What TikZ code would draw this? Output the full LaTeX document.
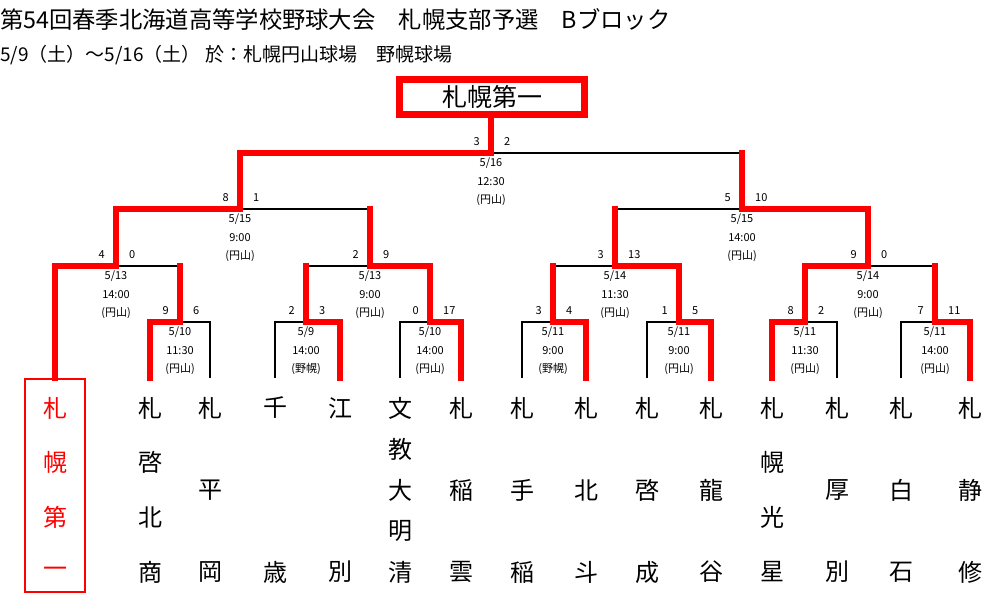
\documentclass[tikz,border=0pt]{standalone}
\usepackage{fontspec}
\setmainfont{Noto Sans CJK JP}
\definecolor{bred}{RGB}{255,0,0}
\tikzset{
  blk/.style={draw=black, line width=1.8pt},
  redl/.style={draw=bred, line width=5.5pt, line cap=rect},
  small/.style={font=\fontsize{11}{11}\selectfont, inner sep=0pt},
  teamtxt/.style={font=\fontsize{24}{24}\selectfont, inner sep=0pt},
}
\newcommand\gameinfo[6]{%
  \node[small, anchor=east] (#1-sl) at ([xshift=-11pt,yshift=11pt]#1) {#2};
  \node[small, anchor=west] (#1-sr) at ([xshift=13pt,yshift=11pt]#1) {#3};
  \node[small] (#1-d) at ([yshift=-10pt]#1) {#4};
  \node[small] (#1-t) at ([yshift=-29pt]#1) {#5};
  \node[small] (#1-v) at ([yshift=-47pt]#1) {#6};
}
\newcommand\teamcol[5]{%
  \foreach \c [count=\i] in {#4} {
    \node[teamtxt, text=#5] (#1-\i) at ({#2},{408+(\i-1)*164/(#3-1)}) {\c};
  }
}
\begin{document}
\begin{tikzpicture}[x=1pt,y=-1pt]
\useasboundingbox (0,0) rectangle (1001,596);

% titles
\node[anchor=west, inner sep=0pt, font=\fontsize{23.3}{23.3}\selectfont] (title) at (0,19) {第54回春季北海道高等学校野球大会　札幌支部予選　Bブロック};
\node[anchor=west, inner sep=0pt, font=\fontsize{19}{19}\selectfont] (subtitle) at (0,55) {5/9（土）～5/16（土） 於：札幌円山球場　野幌球場};

% champion box
\node[draw=bred, line width=7pt, minimum width=185pt, minimum height=35pt, inner sep=0pt, font=\fontsize{25}{25}\selectfont] (champ) at (492,97) {札幌第一};

% seed box
\node[draw=bred, line width=2pt, minimum width=60pt, minimum height=213pt, inner sep=0pt] (seedbox) at (55,485.5) {};
\coordinate (s) at (seedbox.north);

% leaf tops
\foreach \n/\x in {2/150,3/210,4/275,5/340,6/400,7/461,8/522,9/586,10/647,11/711,12/772,13/837,14/901,15/970}
  \coordinate (p\n) at (\x,378);

% junctions
\coordinate (a1) at (180,322);
\coordinate (a2) at (306,322);
\coordinate (a3) at (430,322);
\coordinate (a4) at (553,322);
\coordinate (a5) at (679,322);
\coordinate (a6) at (805,322);
\coordinate (a7) at (935,322);
\coordinate (b1) at (116,266);
\coordinate (b2) at (370,266);
\coordinate (b3) at (615,266);
\coordinate (b4) at (868,266);
\coordinate (c1) at (240,209);
\coordinate (c2) at (742,209);
\coordinate (f) at (491,153);

% black bracket lines
\foreach \c/\p in {p2/a1,p3/a1,p4/a2,p5/a2,p6/a3,p7/a3,p8/a4,p9/a4,p10/a5,p11/a5,p12/a6,p13/a6,p14/a7,p15/a7,s/b1,a1/b1,a2/b2,a3/b2,a4/b3,a5/b3,a6/b4,a7/b4,b1/c1,b2/c1,b3/c2,b4/c2,c1/f,c2/f}
  \draw[blk] (\c) |- (\p);

% red winner paths
\foreach \c/\p in {p2/a1,p5/a2,p7/a3,p9/a4,p11/a5,p12/a6,p15/a7,s/b1,a3/b2,a5/b3,a6/b4,b1/c1,b4/c2,c1/f}
  \draw[redl] (\c) |- (\p);
\foreach \c/\p in {a1/b1,a2/b2,a4/b3,a7/b4,b2/c1,b3/c2,c2/f}
  \draw[redl] (\c) -- (\c |- \p);
\draw[redl] (f) -- (f |- champ.south);

% game info
\gameinfo{a1}{9}{6}{5/10}{11:30}{(円山)}
\gameinfo{a2}{2}{3}{5/9}{14:00}{(野幌)}
\gameinfo{a3}{0}{17}{5/10}{14:00}{(円山)}
\gameinfo{a4}{3}{4}{5/11}{9:00}{(野幌)}
\gameinfo{a5}{1}{5}{5/11}{9:00}{(円山)}
\gameinfo{a6}{8}{2}{5/11}{11:30}{(円山)}
\gameinfo{a7}{7}{11}{5/11}{14:00}{(円山)}
\gameinfo{b1}{4}{0}{5/13}{14:00}{(円山)}
\gameinfo{b2}{2}{9}{5/13}{9:00}{(円山)}
\gameinfo{b3}{3}{13}{5/14}{11:30}{(円山)}
\gameinfo{b4}{9}{0}{5/14}{9:00}{(円山)}
\gameinfo{c1}{8}{1}{5/15}{9:00}{(円山)}
\gameinfo{c2}{5}{10}{5/15}{14:00}{(円山)}
\gameinfo{f}{3}{2}{5/16}{12:30}{(円山)}

% team names
\teamcol{n1}{55}{4}{札,幌,第,一}{bred}
\teamcol{n2}{150}{4}{札,啓,北,商}{black}
\teamcol{n3}{210}{3}{札,平,岡}{black}
\teamcol{n4}{275}{2}{千,歳}{black}
\teamcol{n5}{340}{2}{江,別}{black}
\teamcol{n6}{400}{5}{文,教,大,明,清}{black}
\teamcol{n7}{461}{3}{札,稲,雲}{black}
\teamcol{n8}{522}{3}{札,手,稲}{black}
\teamcol{n9}{586}{3}{札,北,斗}{black}
\teamcol{n10}{647}{3}{札,啓,成}{black}
\teamcol{n11}{711}{3}{札,龍,谷}{black}
\teamcol{n12}{772}{4}{札,幌,光,星}{black}
\teamcol{n13}{837}{3}{札,厚,別}{black}
\teamcol{n14}{901}{3}{札,白,石}{black}
\teamcol{n15}{970}{3}{札,静,修}{black}
\end{tikzpicture}
\end{document}
